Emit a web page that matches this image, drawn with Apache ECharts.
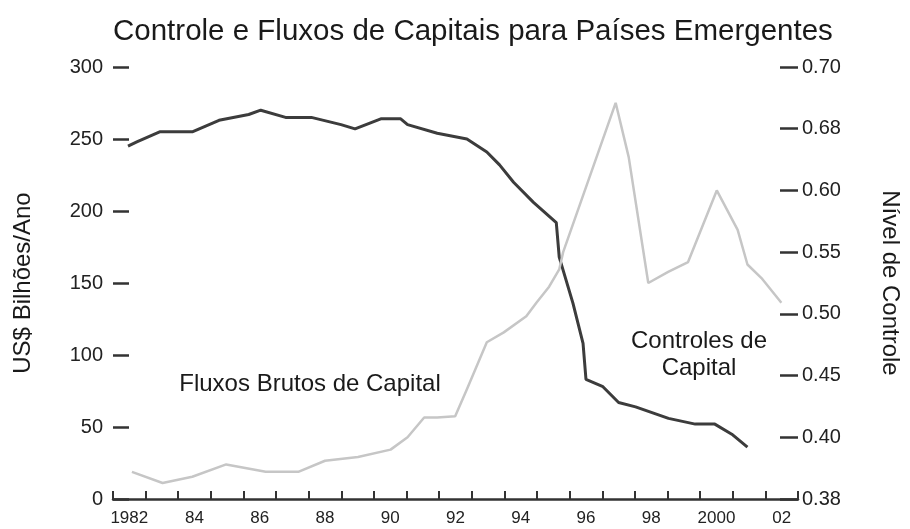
<!DOCTYPE html>
<html>
<head>
<meta charset="utf-8">
<script src="https://cdn.jsdelivr.net/npm/echarts@6/dist/echarts.min.js"></script>
<style>
  html, body { margin: 0; padding: 0; background: #fff; }
  #chart { width: 910px; height: 529px; }
</style>
</head>
<body>
<div id="chart"></div>
<script>
// anos (rótulos do eixo x, um por faixa)
const yearLabels = ['1982', '83', '84', '85', '86', '87', '88', '89', '90', '91', '92',
  '93', '94', '95', '96', '97', '98', '99', '2000', '01', '02'];

// Fluxos Brutos de Capital (US$ bilhões/ano) - eixo esquerdo
const flowYears = [1982.46, 1982.73, 1983.43, 1984.43, 1985.25, 1986.16, 1986.53, 1987.29,
  1988.08, 1988.99, 1989.42, 1990.21, 1990.82, 1991.03, 1991.94, 1992.85, 1993.46, 1993.85,
  1994.28, 1994.89, 1995.59, 1995.68, 1996.10, 1996.41, 1996.50, 1997.02, 1997.50, 1998.02,
  1999.03, 1999.85, 2000.45, 2000.97, 2001.45];
const flowValues = [245, 248, 255, 255, 263, 267, 270, 265,
  265, 260, 257, 264, 264, 260, 254, 250, 241, 232,
  220, 206, 192, 168, 136, 108, 83, 78, 67, 64,
  56, 52, 52, 45, 36];

// Controles de Capital (nível) - eixo direito
const controlYears = [1982.58, 1983.52, 1984.43, 1985.47, 1986.68, 1987.68, 1988.50, 1989.51,
  1990.51, 1991.03, 1991.54, 1991.94, 1992.49, 1992.85, 1993.46, 1993.98, 1994.67, 1994.98,
  1995.37, 1995.68, 1995.80, 1997.41, 1997.81, 1998.41, 1999.02, 1999.63, 2000.51, 2001.15,
  2001.45, 2001.88, 2002.49];
const controlValues = [0.372, 0.363, 0.368, 0.378, 0.372, 0.372, 0.381, 0.384,
  0.390, 0.400, 0.416, 0.416, 0.417, 0.439, 0.477, 0.485, 0.498, 0.509,
  0.522, 0.536, 0.550, 0.671, 0.627, 0.525, 0.534, 0.542, 0.600, 0.568,
  0.540, 0.529, 0.509];

// marcas do eixo direito e os rótulos como aparecem no gráfico
const rightTickValues = [0.35, 0.40, 0.45, 0.50, 0.55, 0.60, 0.65, 0.70];
const rightTickLabels = ['0.38', '0.40', '0.45', '0.50', '0.55', '0.60', '0.68', '0.70'];

const font = '"Liberation Sans", Arial, Helvetica, sans-serif';

const chart = echarts.init(document.getElementById('chart'));
chart.setOption({
  animation: false,
  textStyle: { fontFamily: font },
  title: {
    text: 'Controle e Fluxos de Capitais para Países Emergentes',
    left: 108,
    top: 12,
    textStyle: { fontSize: 29.5, fontWeight: 'normal', color: '#1a1a1a', fontFamily: font }
  },
  grid: { left: 113, right: 105, top: 67, bottom: 30 },
  xAxis: [
    {
      type: 'value',
      min: 1982,
      max: 2003,
      interval: 1,
      position: 'bottom',
      axisLine: { show: true, lineStyle: { color: '#333', width: 2.5 } },
      axisTick: { show: true, inside: true, length: 8, lineStyle: { color: '#333', width: 2 } },
      axisLabel: { show: false },
      splitLine: { show: false }
    },
    {
      type: 'category',
      data: yearLabels,
      position: 'bottom',
      boundaryGap: true,
      axisLine: { show: false },
      axisTick: { show: false },
      axisLabel: { interval: 1, fontSize: 17, color: '#222', margin: 11, fontFamily: font },
      splitLine: { show: false }
    }
  ],
  yAxis: [
    {
      type: 'value',
      min: 0,
      max: 300,
      interval: 50,
      name: 'US$ Bilhões/Ano',
      nameLocation: 'middle',
      nameGap: 78,
      nameTextStyle: { fontSize: 24, color: '#1a1a1a', fontFamily: font },
      axisLine: { show: false },
      axisTick: { show: true, inside: true, length: 16, lineStyle: { color: '#333', width: 2.5 } },
      axisLabel: { fontSize: 20, color: '#222', margin: 10, fontFamily: font },
      splitLine: { show: false }
    },
    {
      type: 'value',
      min: 0.35,
      max: 0.70,
      interval: 0.05,
      position: 'right',
      name: 'Nível de Controle',
      nameLocation: 'middle',
      nameGap: 80,
      nameRotate: -90,
      nameTextStyle: { fontSize: 24, color: '#1a1a1a', fontFamily: font },
      axisLine: { show: false },
      axisTick: { show: true, inside: true, length: 18, lineStyle: { color: '#333', width: 2.5 } },
      axisLabel: {
        fontSize: 20, color: '#222', margin: 4, fontFamily: font,
        formatter: function (v) {
          for (let i = 0; i < rightTickValues.length; i++) {
            if (Math.abs(rightTickValues[i] - v) < 1e-6) return rightTickLabels[i];
          }
          return '';
        }
      },
      splitLine: { show: false }
    }
  ],
  graphic: [
    {
      type: 'text',
      x: 310,
      y: 384,
      style: {
        text: 'Fluxos Brutos de Capital', fill: '#1a1a1a', font: '24px ' + font,
        textAlign: 'center', textVerticalAlign: 'middle'
      }
    },
    {
      type: 'text',
      x: 699,
      y: 355,
      style: {
        text: 'Controles de\nCapital', lineHeight: 27, fill: '#1a1a1a', font: '24px ' + font,
        textAlign: 'center', textVerticalAlign: 'middle'
      }
    }
  ],
  series: [
    {
      name: 'Fluxos Brutos de Capital',
      type: 'line',
      xAxisIndex: 0,
      yAxisIndex: 0,
      showSymbol: false,
      data: flowYears.map((x, i) => [x, flowValues[i]]),
      lineStyle: { color: '#3c3c3c', width: 3 }
    },
    {
      name: 'Controles de Capital',
      type: 'line',
      xAxisIndex: 0,
      yAxisIndex: 1,
      showSymbol: false,
      data: controlYears.map((x, i) => [x, controlValues[i]]),
      lineStyle: { color: '#c6c6c6', width: 2.5 }
    }
  ]
});
</script>
</body>
</html>
